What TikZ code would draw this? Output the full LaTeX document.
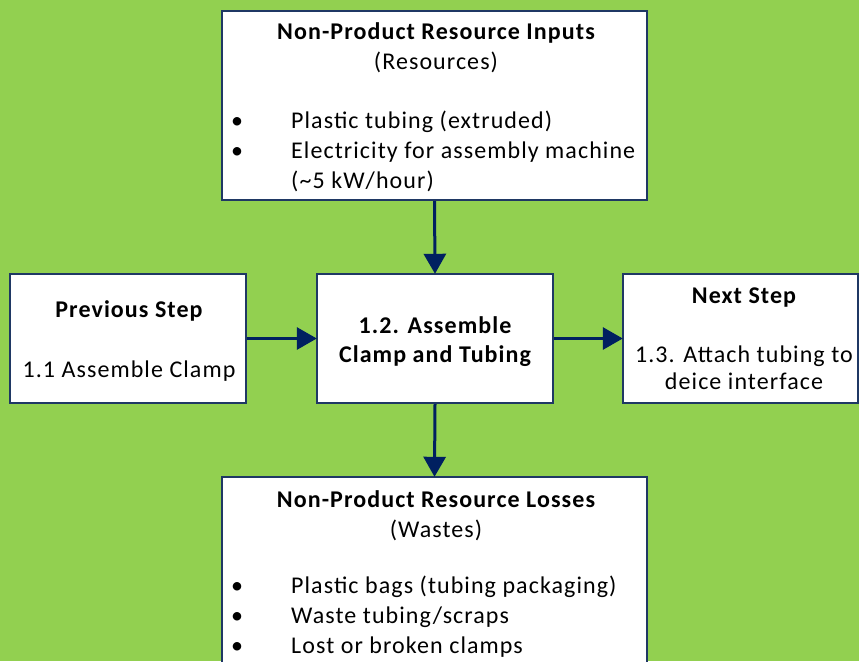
\documentclass[tikz,border=0pt]{standalone}
\usepackage{fontspec}
\setmainfont{Carlito}[LetterSpace=4.5]
\usetikzlibrary{arrows.meta}
\definecolor{LeafGreen}{HTML}{92D050}
\definecolor{DeepNavy}{HTML}{002060}
\definecolor{BoxNavy}{HTML}{1F3864}
\tikzset{
    BoxStyle/.style = {draw=BoxNavy, line width=2.4pt, fill=white, rectangle, inner sep=0pt},
    TextStyle/.style = {anchor=base, inner sep=0pt, font=\fontsize{24}{30}\selectfont},
    TitleStyle/.style = {TextStyle, font=\fontsize{24}{30}\selectfont\bfseries},
    ArrowStyle/.style = {draw=DeepNavy, line width=3pt, -{Triangle[length=20pt,width=22pt]}, shorten >=-1pt}
}
\begin{document}
\begin{tikzpicture}[x=1pt,y=-1pt]

    \useasboundingbox (0,0) rectangle (859,661);
    \fill[LeafGreen] (0,0) rectangle (859,661);
    \clip (0,0) rectangle (859,661);

    \node[BoxStyle, minimum width=425pt, minimum height=189pt] (inputs) at (434.5,105.5) {};
    \node[BoxStyle, minimum width=236pt, minimum height=129pt] (prev) at (128,338.5) {};
    \node[BoxStyle, minimum width=236pt, minimum height=129pt] (assemble) at (435,338.5) {};
    \node[BoxStyle, minimum width=235pt, minimum height=129pt] (next) at (740.5,338.5) {};
    \node[BoxStyle, minimum width=425pt, minimum height=220pt] (losses) at (434.5,587) {};

    \node[TitleStyle] (inTitle) at (436,40) {Non-Product Resource Inputs};
    \node[TextStyle] (inSub) at (436,70) {(Resources)};
    \node[TextStyle] (inDotA) at (237,128) {\textbullet};
    \node[TextStyle, anchor=base west] (inItemA) at (291,128) {Plastic tubing (extruded)};
    \node[TextStyle] (inDotB) at (237,158) {\textbullet};
    \node[TextStyle, anchor=base west] (inItemB) at (291,158) {Electricity for assembly machine};
    \node[TextStyle, anchor=base west] (inItemC) at (291,188) {(\textasciitilde 5 kW/hour)};

    \node[TitleStyle] (prevTitle) at (129,317) {Previous Step};
    \node[TextStyle] (prevText) at (129,377) {1.1 Assemble Clamp};

    \node[TitleStyle] (asmA) at (435,333) {1.2. Assemble};
    \node[TitleStyle] (asmB) at (435,362) {Clamp and Tubing};

    \node[TitleStyle] (nextTitle) at (744,303) {Next Step};
    \node[TextStyle] (nextA) at (744,362) {1.3. Attach tubing to};
    \node[TextStyle] (nextB) at (744,389) {deice interface};

    \node[TitleStyle] (lossTitle) at (436,507) {Non-Product Resource Losses};
    \node[TextStyle] (lossSub) at (436,537) {(Wastes)};
    \node[TextStyle] (lossDotA) at (237,593) {\textbullet};
    \node[TextStyle, anchor=base west] (lossItemA) at (291,593) {Plastic bags (tubing packaging)};
    \node[TextStyle] (lossDotB) at (237,623) {\textbullet};
    \node[TextStyle, anchor=base west] (lossItemB) at (291,623) {Waste tubing/scraps};
    \node[TextStyle] (lossDotC) at (237,653) {\textbullet};
    \node[TextStyle, anchor=base west] (lossItemC) at (291,653) {Lost or broken clamps};

    \draw[ArrowStyle] (inputs.south) -- (assemble.north);
    \draw[ArrowStyle] (assemble.south) -- (losses.north);
    \draw[ArrowStyle] (prev.east) -- (assemble.west);
    \draw[ArrowStyle] (assemble.east) -- (next.west);

\end{tikzpicture}
\end{document}
